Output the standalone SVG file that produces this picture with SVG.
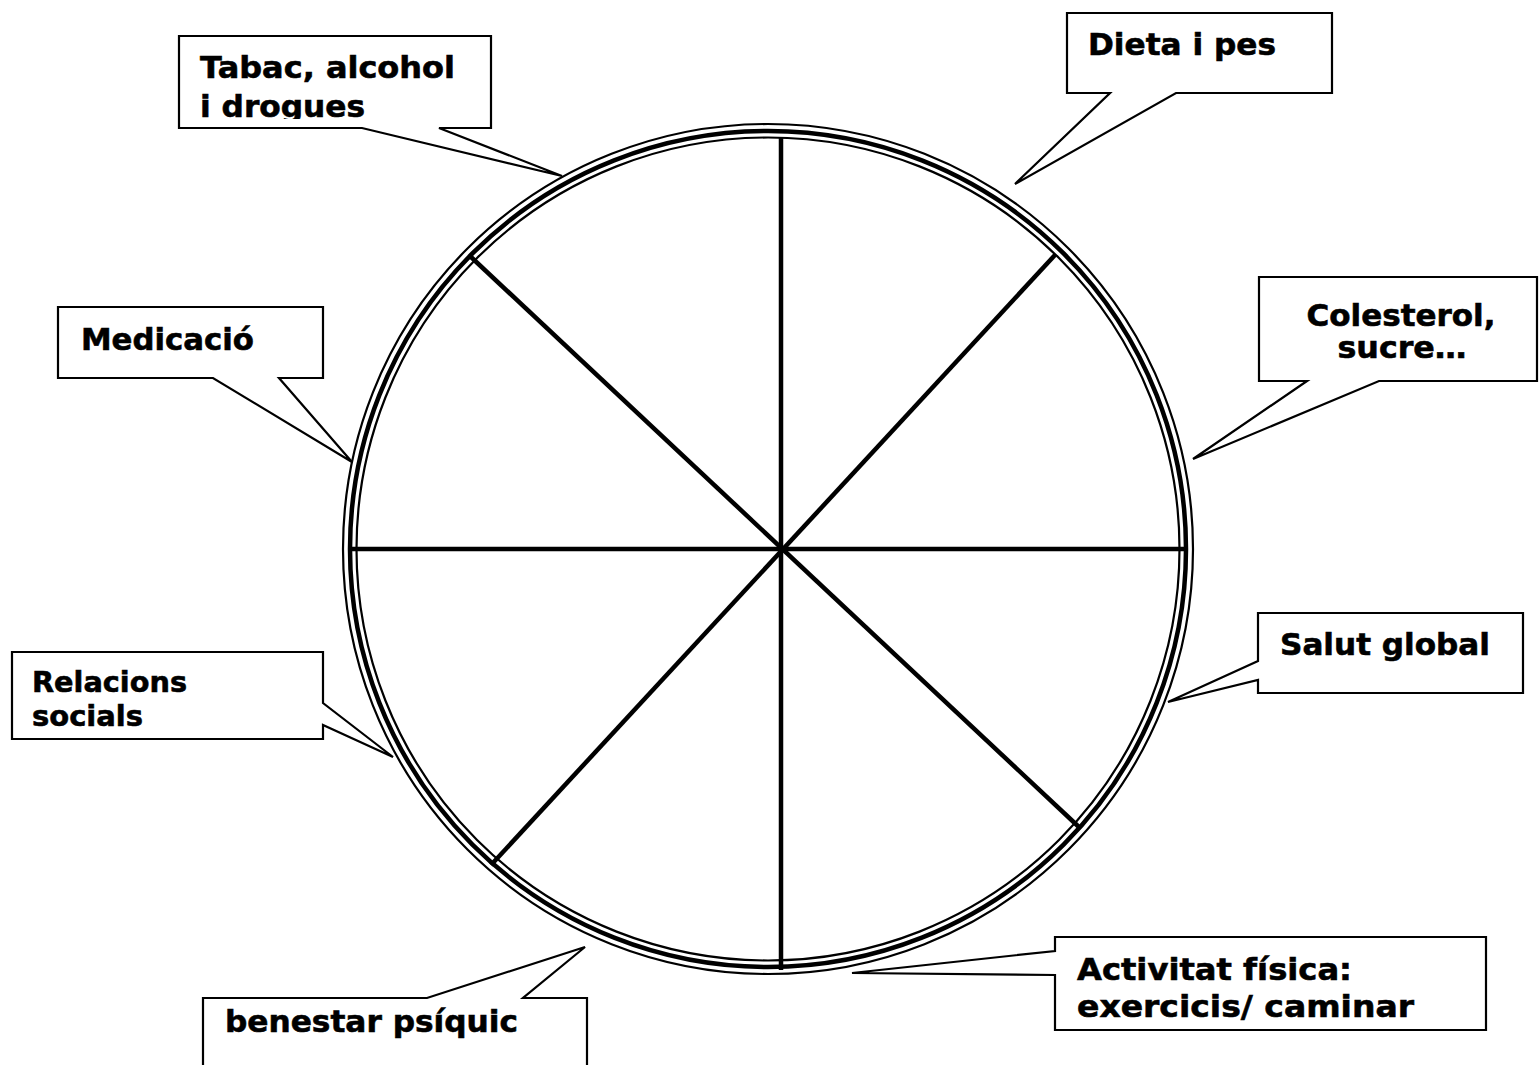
<svg xmlns="http://www.w3.org/2000/svg" width="1540" height="1065" viewBox="0 0 1540 1065">
<style>
.bg{fill:#fff}
.ring{fill:none;stroke:#000}
.spoke{stroke:#000;stroke-width:4.5;stroke-linecap:butt}
.call{fill:#fff;stroke:#000;stroke-width:2.2;stroke-linejoin:miter}
.lbl{font-family:"DejaVu Sans","Liberation Sans",sans-serif;font-weight:bold;font-size:31px;fill:#000;stroke:#000;stroke-width:0.6}
.sm{font-size:29px}
</style>
<defs>
<clipPath id="clipTabac"><rect x="180" y="37" width="310" height="82"/></clipPath>
</defs>
<rect class="bg" x="0" y="0" width="1540" height="1065"/>
<g id="wheel">
<circle class="ring" cx="768" cy="549" r="425" stroke-width="2.2"/>
<circle class="ring" cx="768" cy="549" r="418" stroke-width="4.5"/>
<circle class="ring" cx="768" cy="549" r="411.5" stroke-width="2.2"/>
<line class="spoke" x1="351" y1="549" x2="1186" y2="549"/>
<line class="spoke" x1="781" y1="138" x2="781" y2="970"/>
<line class="spoke" x1="471" y1="257" x2="1080" y2="828"/>
<line class="spoke" x1="1055" y1="255" x2="491" y2="865"/>
</g>
<g id="connectors"></g>
<g id="tabac">
<path class="call" d="M179,36 H491 V128 H439 L562,176 L362,128 H179 Z"/>
<text class="lbl" x="200" y="78" textLength="255" lengthAdjust="spacingAndGlyphs">Tabac, alcohol</text>
<text class="lbl" x="200" y="117" textLength="165" lengthAdjust="spacingAndGlyphs" clip-path="url(#clipTabac)">i drogues</text>
</g>
<g id="dieta">
<path class="call" d="M1067,13 H1332 V93 H1176 L1015,184 L1110,93 H1067 Z"/>
<text class="lbl" x="1088" y="55" textLength="188" lengthAdjust="spacingAndGlyphs">Dieta i pes</text>
</g>
<g id="colesterol">
<path class="call" d="M1259,277 H1537 V381 H1379 L1193,459 L1307,381 H1259 Z"/>
<text class="lbl" x="1401" y="326" text-anchor="middle" textLength="189" lengthAdjust="spacingAndGlyphs">Colesterol,</text>
<text class="lbl" x="1402" y="358" text-anchor="middle" textLength="129" lengthAdjust="spacingAndGlyphs">sucre…</text>
</g>
<g id="medicacio">
<path class="call" d="M58,307 H323 V378 H279 L352,462 L213,378 H58 Z"/>
<text class="lbl" x="81" y="350" textLength="173" lengthAdjust="spacingAndGlyphs">Medicació</text>
</g>
<g id="relacions">
<path class="call" d="M12,652 H323 V703 L393,757 L323,725 V739 H12 Z"/>
<text class="lbl sm" x="32" y="692" textLength="155" lengthAdjust="spacingAndGlyphs">Relacions</text>
<text class="lbl sm" x="32" y="726" textLength="111" lengthAdjust="spacingAndGlyphs">socials</text>
</g>
<g id="salut">
<path class="call" d="M1258,613 H1523 V693 H1258 V680 L1168,702 L1258,661 Z"/>
<text class="lbl" x="1280" y="655" textLength="210" lengthAdjust="spacingAndGlyphs">Salut global</text>
</g>
<g id="benestar">
<path class="call" d="M203,1075 V998 H427 L585,947 L523,998 H587 V1075 Z"/>
<text class="lbl" x="225" y="1032" textLength="293" lengthAdjust="spacingAndGlyphs">benestar psíquic</text>
</g>
<g id="activitat">
<path class="call" d="M1055,937 H1486 V1030 H1055 V975 L852,973 L1055,951 Z"/>
<text class="lbl" x="1077" y="980" textLength="275" lengthAdjust="spacingAndGlyphs">Activitat física:</text>
<text class="lbl" x="1077" y="1017" textLength="337" lengthAdjust="spacingAndGlyphs">exercicis/ caminar</text>
</g>
</svg>
